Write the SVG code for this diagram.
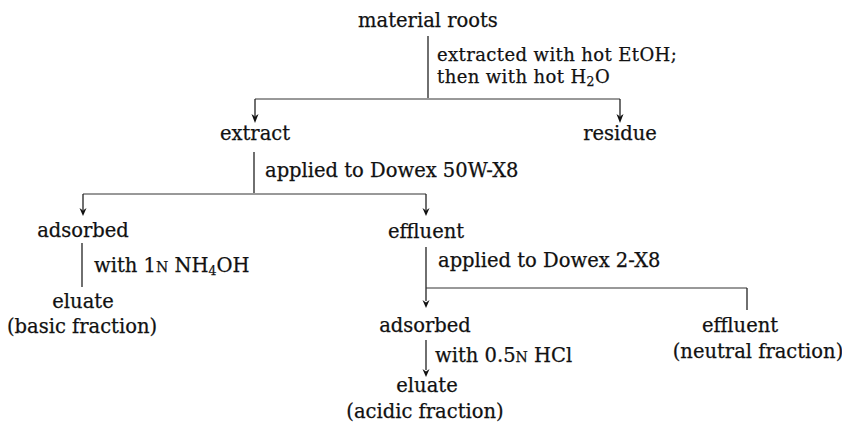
<svg xmlns="http://www.w3.org/2000/svg" width="842" height="428" viewBox="0 0 842 428">
<defs>
<style>
text{font-family:"DejaVu Serif","Liberation Serif",serif;font-size:19.5px;fill:#111;stroke:#111;stroke-width:0.25}
.m{text-anchor:middle}
.t{font-size:18px;letter-spacing:0.4px}
.sc{font-size:14px}
.sub{font-size:12.5px}
.ln{stroke:#222;stroke-width:1.3;fill:none}
.hz{stroke:#333;stroke-width:1;fill:none}
.ah{fill:#111}
</style>
</defs>
<rect width="842" height="428" fill="#fff"/>
<g id="connectors">
<line class="ln" x1="428" y1="36" x2="428" y2="98"/>
<line class="hz" x1="255" y1="99" x2="620" y2="99"/>
<path class="ln" d="M255,99 V116"/>
<path class="ah" d="M251.5,114 L255,123 L258.5,114 L255,116.5 Z"/>
<path class="ln" d="M620,99 V116"/>
<path class="ah" d="M616.5,114 L620,123 L623.5,114 L620,116.5 Z"/>
<line class="ln" x1="254" y1="152" x2="254" y2="193"/>
<line class="hz" x1="83" y1="194" x2="426" y2="194"/>
<path class="ln" d="M83,194 V210"/>
<path class="ah" d="M79.5,208 L83,216 L86.5,208 L83,210.5 Z"/>
<path class="ln" d="M426,194 V210"/>
<path class="ah" d="M422.5,208 L426,216 L429.5,208 L426,210.5 Z"/>
<line class="ln" x1="82" y1="243" x2="82" y2="287"/>
<path class="ln" d="M426,247 V301"/>
<path class="ah" d="M422.5,300 L426,308 L429.5,300 L426,302.5 Z"/>
<line class="hz" x1="426" y1="288" x2="747" y2="288"/>
<line class="ln" x1="747" y1="288" x2="747" y2="310"/>
<path class="ln" d="M426,340 V370"/>
<path class="ah" d="M422.5,369 L426,377 L429.5,369 L426,371.5 Z"/>
</g>
<g id="material-roots"><text class="m" x="428" y="27">material roots</text></g>
<g id="label-extraction">
<text class="t" x="437" y="61">extracted with hot EtOH;</text>
<text class="t" x="437" y="83">then with hot H<tspan class="sub" dy="3">2</tspan><tspan dy="-3">O</tspan></text>
</g>
<g id="extract"><text class="m" x="255" y="140">extract</text></g>
<g id="residue"><text class="m" x="620" y="140">residue</text></g>
<g id="label-dowex50"><text x="265" y="177">applied to Dowex 50W-X8</text></g>
<g id="adsorbed-1"><text class="m" x="83" y="237">adsorbed</text></g>
<g id="effluent-1"><text class="m" x="426" y="238">effluent</text></g>
<g id="label-nh4oh"><text x="94" y="272">with 1<tspan class="sc">N</tspan> NH<tspan class="sub" dy="3">4</tspan><tspan dy="-3">OH</tspan></text></g>
<g id="eluate-basic">
<text class="m" x="83" y="308">eluate</text>
<text class="m" x="82" y="333">(basic fraction)</text>
</g>
<g id="label-dowex2"><text x="438" y="267">applied to Dowex 2-X8</text></g>
<g id="adsorbed-2"><text class="m" x="425" y="332">adsorbed</text></g>
<g id="effluent-neutral">
<text class="m" x="740" y="332">effluent</text>
<text class="m" x="758" y="358">(neutral fraction)</text>
</g>
<g id="label-hcl"><text x="435" y="362">with 0.5<tspan class="sc">N</tspan> HCl</text></g>
<g id="eluate-acidic">
<text class="m" x="427" y="392">eluate</text>
<text class="m" x="425" y="418">(acidic fraction)</text>
</g>
</svg>
